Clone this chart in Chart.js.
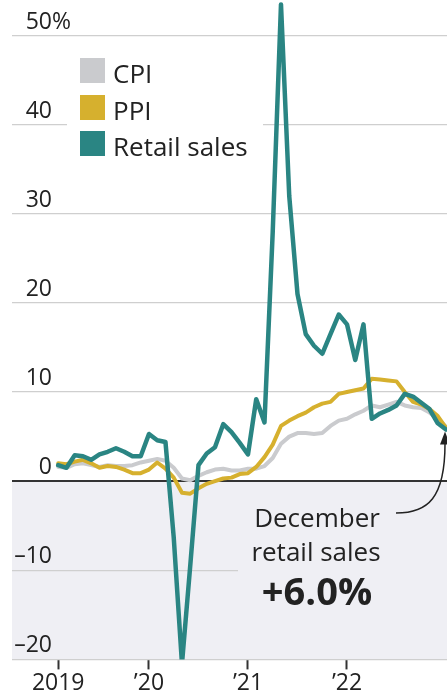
<!DOCTYPE html>
<html>
<head>
<meta charset="utf-8">
<script src="https://cdn.jsdelivr.net/npm/chart.js@4"></script>
<style>
  body { margin: 0; background: #fff; }
  #myChart { display: block; }
</style>
</head>
<body>
<canvas id="myChart" width="447" height="697"></canvas>
<script>
// monthly data, Jan 2019 - Dec 2022, year-over-year change (%)
const months = [
    "2019-01", "2019-02", "2019-03", "2019-04", "2019-05", "2019-06", "2019-07", "2019-08", "2019-09", "2019-10", "2019-11", "2019-12",
    "2020-01", "2020-02", "2020-03", "2020-04", "2020-05", "2020-06", "2020-07", "2020-08", "2020-09", "2020-10", "2020-11", "2020-12",
    "2021-01", "2021-02", "2021-03", "2021-04", "2021-05", "2021-06", "2021-07", "2021-08", "2021-09", "2021-10", "2021-11", "2021-12",
    "2022-01", "2022-02", "2022-03", "2022-04", "2022-05", "2022-06", "2022-07", "2022-08", "2022-09", "2022-10", "2022-11", "2022-12",
];
const cpi = [
    1.6, 1.5, 1.9, 2.0, 1.8, 1.6, 1.8, 1.7, 1.7, 1.8, 2.1, 2.3,
    2.5, 2.3, 1.5, 0.3, 0.1, 0.6, 1.0, 1.3, 1.4, 1.2, 1.2, 1.4,
    1.4, 1.7, 2.6, 4.2, 5.0, 5.4, 5.4, 5.3, 5.4, 6.2, 6.8, 7.0,
    7.5, 7.9, 8.5, 8.3, 8.6, 8.9, 8.5, 8.3, 8.2, 7.7, 7.0, 6.1,
];
const ppi = [
    2.0, 1.9, 2.2, 2.4, 2.0, 1.5, 1.7, 1.6, 1.3, 0.9, 0.9, 1.3,
    2.1, 1.4, 0.4, -1.3, -1.4, -0.8, -0.3, 0.0, 0.3, 0.4, 0.8, 0.9,
    1.6, 2.7, 4.1, 6.2, 6.8, 7.3, 7.7, 8.3, 8.7, 8.9, 9.8, 10.0,
    10.2, 10.4, 11.5, 11.4, 11.3, 11.2, 10.0, 8.9, 8.6, 8.1, 7.3, 6.0,
];
const retail = [
    1.8, 1.5, 2.9, 2.8, 2.4, 3.0, 3.3, 3.7, 3.3, 2.8, 2.8, 5.3,
    4.6, 4.4, -6.3, -20.5, -9.5, 1.8, 3.1, 3.8, 6.4, 5.5, 4.3, 3.0,
    9.2, 6.6, 28.0, 53.5, 32.0, 21.0, 16.5, 15.2, 14.3, 16.5, 18.7, 17.6,
    13.6, 17.6, 7.0, 7.6, 8.0, 8.5, 9.8, 9.5, 8.8, 8.1, 6.5, 5.8,
];
const xTickPos = [1, 12, 24, 36];
const xTickLabels = ["2019", "\u201920", "\u201921", "\u201922"];
const yTicks = [-20, -10, 0, 10, 20, 30, 40, 50];
const legendLabels = ["CPI", "PPI", "Retail sales"];

const TEAL = "#2a8583";
const GOLD = "#d6b02e";
const GRAY = "#cacbce";
const SHADE = "#efeff4";
const INK = "#222222";
const FONT = '"Open Sans", sans-serif';

// points are plotted at month end: Jan 2019 -> 1, Dec 2022 -> 48
function toPoints(values) {
    return values.map((v, i) => ({ x: i + 1, y: v }));
}

const decor = {
    id: "decor",
    beforeDraw(chart) {
        const { ctx, chartArea: a, scales: { y } } = chart;
        const y0 = y.getPixelForValue(0);
        ctx.save();
        ctx.fillStyle = SHADE;
        ctx.fillRect(a.left, y0, a.right - a.left, a.bottom - y0);
        ctx.restore();
    },
    beforeDatasetsDraw(chart) {
        const { ctx, scales: { y } } = chart;
        ctx.save();
        // blank areas behind legend and note
        ctx.fillStyle = "#fff";
        ctx.fillRect(67, 45, 196, 120);
        ctx.fillStyle = SHADE;
        ctx.fillRect(238, 490, 209, 130);

        // y labels, sitting above their gridlines
        ctx.fillStyle = INK;
        ctx.font = "23px " + FONT;
        ctx.textBaseline = "alphabetic";
        for (const v of yTicks) {
            const py = y.getPixelForValue(v) - 7;
            const txt = v < 0 ? "\u2013" + Math.abs(v) : String(v);
            ctx.textAlign = "right";
            ctx.fillText(txt, 52, py);
            if (v === 50) {
                ctx.textAlign = "left";
                ctx.fillText("%", 52, py);
            }
        }

        // legend
        const colors = [GRAY, GOLD, TEAL];
        const tops = [58, 95, 131];
        ctx.font = "26px " + FONT;
        ctx.textAlign = "left";
        legendLabels.forEach((lab, i) => {
            ctx.fillStyle = colors[i];
            ctx.fillRect(80, tops[i], 25, 25);
            ctx.fillStyle = INK;
            ctx.fillText(lab, 113, tops[i] + 25);
        });
        ctx.restore();
    },
    afterDatasetsDraw(chart) {
        const { ctx, scales: { x, y } } = chart;
        const last = retail.length - 1;
        const xl = x.getPixelForValue(last + 1);
        const yl = y.getPixelForValue(retail[last]);
        ctx.save();
        ctx.fillStyle = INK;
        ctx.textAlign = "center";
        ctx.textBaseline = "alphabetic";
        ctx.font = "26px " + FONT;
        ctx.fillText("December", 317, 527);
        ctx.fillText("retail sales", 316, 561);
        ctx.font = "bold 38px " + FONT;
        ctx.fillText("+6.0%", 317, 605);

        // pointer to last value
        ctx.strokeStyle = INK;
        ctx.lineWidth = 1.5;
        ctx.beginPath();
        ctx.moveTo(396, 513);
        ctx.bezierCurveTo(428, 513, xl - 1, 498, xl - 1, yl + 14);
        ctx.stroke();
        ctx.beginPath();
        ctx.moveTo(xl - 1, yl + 2);
        ctx.lineTo(xl - 6, yl + 15);
        ctx.lineTo(xl + 4, yl + 15);
        ctx.closePath();
        ctx.fill();
        ctx.restore();
    },
};

const ctx = document.getElementById("myChart").getContext("2d");
const lienzo = new Chart(ctx, {
    type: "line",
    data: {
        datasets: [
            {
                label: "Retail sales",
                data: toPoints(retail),
                borderColor: TEAL,
                borderWidth: 4.5,
                order: 0,
            },
            {
                label: "PPI",
                data: toPoints(ppi),
                borderColor: GOLD,
                borderWidth: 4,
                order: 1,
            },
            {
                label: "CPI",
                data: toPoints(cpi),
                borderColor: GRAY,
                borderWidth: 4,
                order: 2,
            },
        ],
    },
    options: {
        responsive: false,
        animation: false,
        layout: { padding: { left: 12, right: 0, top: 0, bottom: 0 } },
        elements: {
            point: { radius: 0 },
            line: { tension: 0, borderJoinStyle: "round", borderCapStyle: "round" },
        },
        plugins: {
            legend: { display: false },
            tooltip: { enabled: false },
        },
        scales: {
            x: {
                type: "linear",
                min: -4.6,
                max: 48.12,
                afterBuildTicks: (axis) => {
                    axis.ticks = xTickPos.map((v) => ({ value: v }));
                },
                grid: {
                    drawOnChartArea: false,
                    drawTicks: true,
                    tickLength: 10,
                    tickWidth: 2,
                    tickColor: "#333",
                },
                border: { display: false },
                ticks: {
                    color: INK,
                    font: { family: "Open Sans", size: 23 },
                    padding: 0,
                    maxRotation: 0,
                    autoSkip: false,
                    callback: (v) => xTickLabels[xTickPos.indexOf(v)],
                },
            },
            y: {
                min: -20,
                max: 54,
                afterBuildTicks: (axis) => {
                    axis.ticks = yTicks.map((v) => ({ value: v }));
                },
                grid: {
                    drawTicks: false,
                    color: (c) => (c.tick && c.tick.value === 0 ? "#333" : "#cfcfcf"),
                    lineWidth: (c) => (c.tick && c.tick.value === 0 ? 2 : 1.2),
                },
                border: { display: false },
                ticks: { display: false },
            },
        },
    },
    plugins: [decor],
});
</script>
</body>
</html>
